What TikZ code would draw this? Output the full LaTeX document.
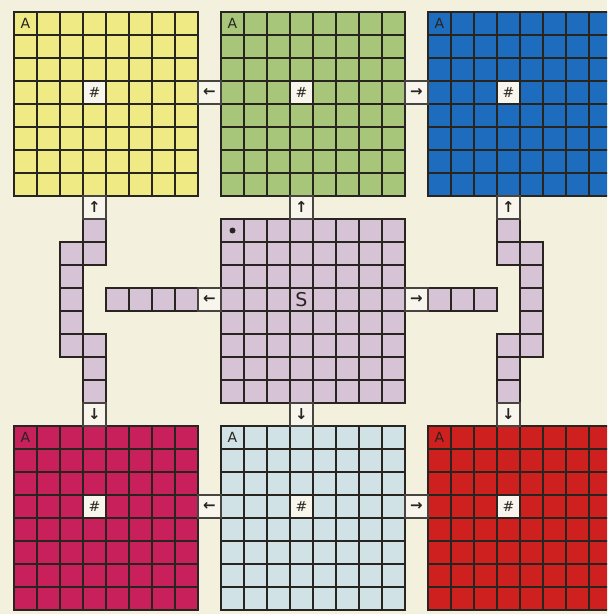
\documentclass[tikz,border=0pt]{standalone}
\usepackage{fontspec}
\setmainfont{DejaVu Sans}
\definecolor{paper}{RGB}{244,240,222}
\definecolor{ink}{RGB}{40,36,32}
\definecolor{yel}{RGB}{240,234,132}
\definecolor{grn}{RGB}{168,198,122}
\definecolor{blu}{RGB}{30,108,190}
\definecolor{pnk}{RGB}{200,32,90}
\definecolor{sky}{RGB}{208,226,230}
\definecolor{rd}{RGB}{206,32,30}
\definecolor{lilac}{RGB}{214,196,214}
\definecolor{blank}{RGB}{248,246,236}

\begin{document}
\begin{tikzpicture}[x=23pt,y=-23pt,
 wall/.style={draw=ink,line width=1.9pt,line cap=rect},
 passage/.style={wall,fill=lilac},
 door/.style={wall,draw=ink!85,fill=blank},
 sign/.style={inner sep=0pt,text=ink,font=\fontsize{14}{14}\selectfont},
 pointer/.style={sign,font=\fontsize{15}{15}\selectfont\bfseries},
 dot/.style={circle,fill=ink,inner sep=0pt,minimum size=6pt}]
\clip (-0.609,-0.522) rectangle (25.783,26.174);
\fill[paper] (-0.609,-0.522) rectangle (25.783,26.174);

% six coloured rooms
\foreach \gx/\gy/\gc/\gn in {0/0/yel/yellow,9/0/grn/green,18/0/blu/blue,
                             0/18/pnk/pink,9/18/sky/pale,18/18/rd/red}
{
 \fill[\gc] (\gx,\gy) rectangle +(8,8);
 \fill[blank] (\gx+3,\gy+3) rectangle +(1,1);
 \foreach \i in {0,...,8} {
  \draw[wall] (\gx+\i,\gy) -- +(0,8);
  \draw[wall] (\gx,\gy+\i) -- +(8,0);
 }
 \node[sign] (\gn-a) at (\gx+0.5,\gy+0.5) {A};
 \node[sign] (\gn-h) at (\gx+3.5,\gy+3.5) {\#};
}

% start room
\fill[lilac] (9,9) rectangle +(8,8);
\foreach \i in {0,...,8} {
 \draw[wall] (9+\i,9) -- +(0,8);
 \draw[wall] (9,9+\i) -- +(8,0);
}
\node[dot] (start) at (9.5,9.5) {};
\node[sign,font=\fontsize{19}{19}\selectfont] (s) at (12.5,12.5) {S};

% corridors
\foreach \c/\r in {3/9,2/10,3/10,2/11,2/12,2/13,2/14,3/14,3/15,3/16,
                   4/12,5/12,6/12,7/12,
                   21/9,21/10,22/10,22/11,22/12,22/13,21/14,22/14,21/15,21/16,
                   18/12,19/12,20/12}
 \filldraw[passage] (\c,\r) rectangle +(1,1);

% doors
\foreach \c/\r/\a/\n in {8/3/←/yg,17/3/→/gb,3/8/↑/yc,12/8/↑/gc,21/8/↑/bc,
                         8/12/←/cl,17/12/→/cr,12/17/↓/cp,3/17/↓/pc,21/17/↓/rc,
                         8/21/←/pp,17/21/→/pr}
{
 \filldraw[door] (\c,\r) rectangle +(1,1);
 \node[pointer] (\n) at (\c+0.5,\r+0.5) {\a};
}
\end{tikzpicture}
\end{document}
